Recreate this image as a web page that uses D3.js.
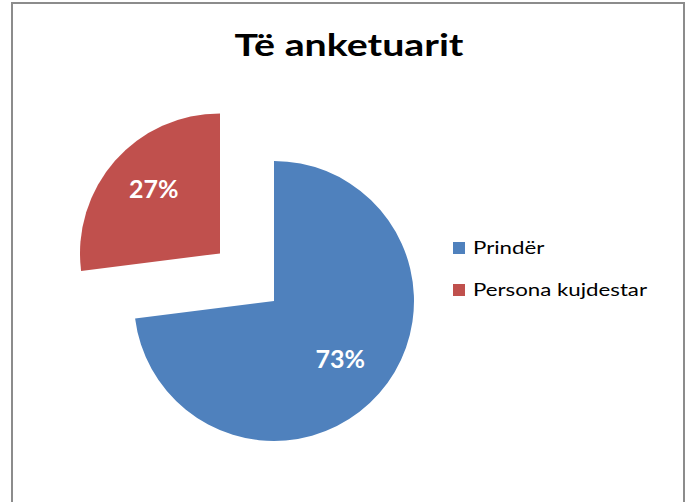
<!DOCTYPE html>
<html>
<head>
<meta charset="utf-8">
<script src="https://cdn.jsdelivr.net/npm/d3@7"></script>
<style>
  body { margin: 0; background: #fff; }
  svg text { font-family: Lato, "Open Sans", sans-serif; }
</style>
</head>
<body>
<svg id="chart" width="689" height="502"></svg>
<script>
// data ----------------------------------------
var categories = ["Prindër", "Persona kujdestar"];
var values = [73, 27];
var colors = ["#4F81BD", "#C0504D"];
var explode = [0, 72]; // px pulled out from centre

var svg = d3.select("#chart");
var width = 689, height = 502;
var stretch = 1.31; // the original text is drawn wide

// chart frame
svg.append("rect")
  .attr("x", 12).attr("y", 3)
  .attr("width", 672).attr("height", 520)
  .attr("fill", "#fff")
  .attr("stroke", "#8c8c8c")
  .attr("stroke-width", 2);

// title
svg.append("text")
  .attr("transform", "translate(349,56) scale(" + stretch + ",1)")
  .attr("text-anchor", "middle")
  .attr("font-size", 30)
  .attr("font-weight", "bold")
  .attr("fill", "#000")
  .text("Të anketuarit");

// pie ----------------------------------------
var cx = 274, cy = 301, r = 140;

var pie = d3.pie().sort(null).value(function(d) { return d; });
var arcs = pie(values);

var arc = d3.arc().innerRadius(0).outerRadius(r);
var labelArc = d3.arc().innerRadius(r * 0.63).outerRadius(r * 0.63);

var g = svg.append("g").attr("transform", "translate(" + cx + "," + cy + ")");

var slice = g.selectAll("g.slice")
  .data(arcs)
  .enter().append("g")
  .attr("class", "slice")
  .attr("transform", function(d, i) {
    var mid = (d.startAngle + d.endAngle) / 2;
    return "translate(" + (Math.sin(mid) * explode[i]) + "," + (-Math.cos(mid) * explode[i]) + ")";
  });

slice.append("path")
  .attr("d", arc)
  .attr("fill", function(d, i) { return colors[i]; });

slice.append("text")
  .attr("transform", function(d, i) {
    var c = labelArc.centroid(d);
    return "translate(" + c[0] + "," + (c[1] - (i === 1 ? 6 : 0)) + ")";
  })
  .attr("text-anchor", "middle")
  .attr("dy", "0.36em")
  .attr("font-size", 25)
  .attr("font-weight", "bold")
  .attr("fill", "#fff")
  .text(function(d) { return d.data + "%"; });

// legend ----------------------------------------
var legend = svg.append("g").attr("transform", "translate(453,242)");

var item = legend.selectAll("g")
  .data(categories)
  .enter().append("g")
  .attr("transform", function(d, i) { return "translate(0," + (i * 42) + ")"; });

item.append("rect")
  .attr("width", 12).attr("height", 12)
  .attr("fill", function(d, i) { return colors[i]; });

item.append("text")
  .attr("transform", "translate(20,12) scale(" + stretch + ",1)")
  .attr("font-size", 17)
  .attr("fill", "#000")
  .text(function(d) { return d; });
</script>
</body>
</html>
